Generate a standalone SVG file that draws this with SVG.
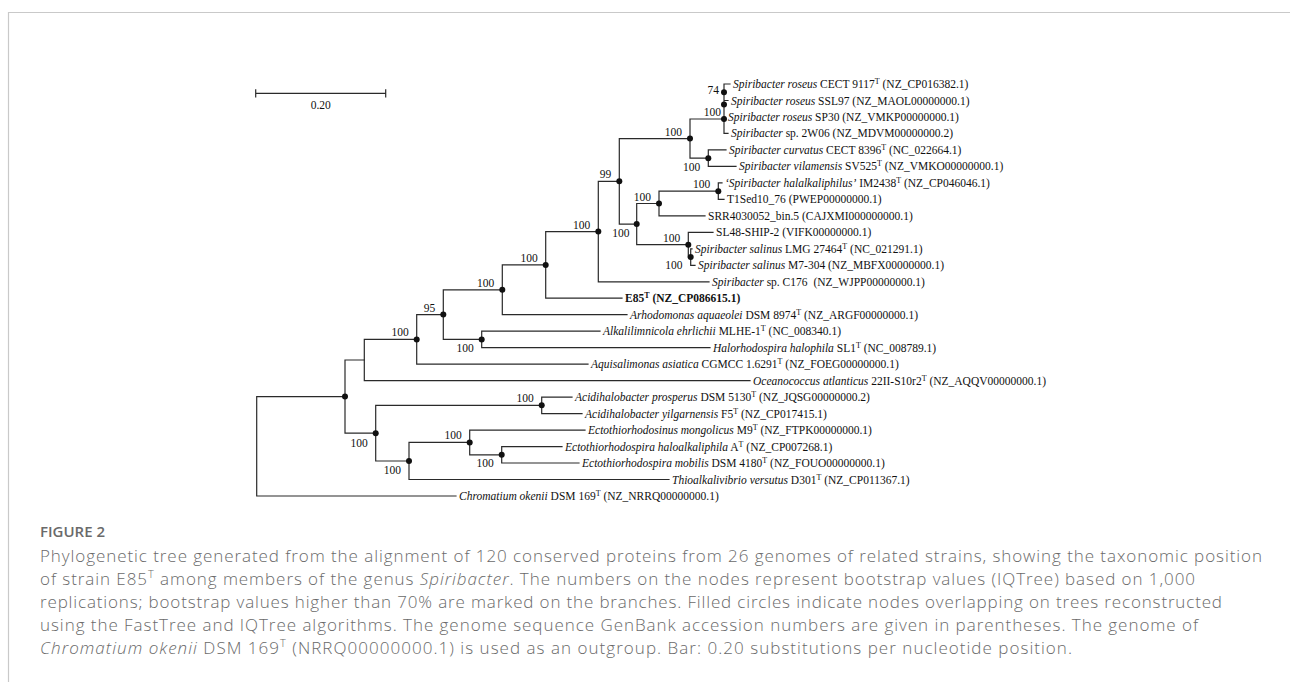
<svg xmlns="http://www.w3.org/2000/svg" width="1290" height="682" viewBox="0 0 1290 682">
<style>
.br{stroke:#2a2a2a;stroke-width:1.2;fill:none;stroke-linecap:square}
.dot{fill:#111}
.lf{font-family:"Liberation Serif","Times New Roman",serif;font-size:11.5px;fill:#111}
.bs{font-family:"Liberation Serif","Times New Roman",serif;font-size:11.5px;fill:#111;text-anchor:end}
.it{font-style:italic}
.sup{font-size:8px}
.cap{font-family:"Open Sans","Liberation Sans",sans-serif;font-size:17px;font-weight:300;fill:#6a6a6a}
.fig{font-family:"Open Sans","Liberation Sans",sans-serif;font-size:15px;font-weight:600;fill:#6a6a6a}
.frame{stroke:#c9c9c9;stroke-width:1.2;fill:none}
</style>
<path class="frame" d="M8.5,682 V12.5 H1290"/>

<g id="scalebar">
<path class="br" d="M255.7,93.3 H385.7 M255.7,89.8 V96.8 M385.7,89.8 V96.8"/>
<text class="lf" x="320.7" y="109" text-anchor="middle">0.20</text>
</g>

<g id="connectors" class="br">
<path d="M256.7,396.6 V496 M256.7,396.6 H345 M256.7,496 H456"/>
<path d="M345,360 V433.2 M345,360 H364.3 M345,433.2 H375.7"/>
<path d="M364.3,339.4 V380.6 M364.3,339.4 H416.7 M364.3,380.6 H750"/>
<path d="M416.7,314.6 V364.2 M416.7,314.6 H443.3 M416.7,364.2 H588"/>
<path d="M443.3,289.8 V339.45 M443.3,289.8 H502.3 M443.3,339.45 H481.7"/>
<path d="M481.7,331.2 V347.7 M481.7,331.2 H600 M481.7,347.7 H710"/>
<path d="M502.3,264.9 V314.7 M502.3,264.9 H545.7 M502.3,314.7 H627"/>
<path d="M545.7,231.6 V298.2 M545.7,231.6 H598.3 M545.7,298.2 H622"/>
<path d="M598.3,181.3 V281.8 M598.3,181.3 H619.3 M598.3,281.8 H709"/>
<path d="M619.3,138.6 V224.1 M619.3,138.6 H690 M619.3,224.1 H636.7"/>
<path d="M690,119 V158.15 M690,119 H724 M690,158.15 H708.3"/>
<path d="M724,84 V133.4 M724,84 H730 M724,100.5 H728 M724,117 H725 M724,133.4 H728"/>
<path d="M708.3,149.9 V166.4 M708.3,149.9 H726 M708.3,166.4 H736"/>
<path d="M636.7,203.5 V244.7 M636.7,203.5 H659 M636.7,244.7 H688.3"/>
<path d="M659,191.15 V215.8 M659,191.15 H718.3 M659,215.8 H705"/>
<path d="M718.3,182.9 V199.4 M718.3,182.9 H722 M718.3,199.4 H724"/>
<path d="M688.3,232.3 V257.05 M688.3,232.3 H713 M688.3,257.05 H690.7"/>
<path d="M690.7,248.8 V265.3 M690.7,248.8 H692 M690.7,265.3 H695"/>
<path d="M375.7,405.35 V461 M375.7,405.35 H541.7 M375.7,461 H409"/>
<path d="M541.7,397.1 V413.6 M541.7,397.1 H572 M541.7,413.6 H582"/>
<path d="M409,442.45 V479.5 M409,442.45 H469.7 M409,479.5 H669"/>
<path d="M469.7,430.1 V454.8 M469.7,430.1 H585 M469.7,454.8 H501.7"/>
<path d="M501.7,446.6 V463 M501.7,446.6 H562 M501.7,463 H579"/>
</g>

<g id="nodes">
<g id="nA"><circle class="dot" cx="345" cy="396.6" r="3"/></g>
<g id="nD"><circle class="dot" cx="416.7" cy="339.4" r="3"/><text class="bs" x="408.7" y="336.4">100</text></g>
<g id="nE"><circle class="dot" cx="443.3" cy="314.6" r="3"/><text class="bs" x="435.3" y="311.6">95</text></g>
<g id="nF"><circle class="dot" cx="502.3" cy="289.8" r="3"/><text class="bs" x="494.3" y="286.8">100</text></g>
<g id="nG"><circle class="dot" cx="481.7" cy="339.45" r="3"/><text class="bs" x="473.7" y="352">100</text></g>
<g id="nH"><circle class="dot" cx="545.7" cy="264.9" r="3"/><text class="bs" x="537.7" y="261.9">100</text></g>
<g id="nI"><circle class="dot" cx="598.3" cy="231.6" r="3"/><text class="bs" x="590.3" y="228.6">100</text></g>
<g id="nJ"><circle class="dot" cx="619.3" cy="181.3" r="3"/><text class="bs" x="611.3" y="178.3">99</text></g>
<g id="nK"><circle class="dot" cx="690" cy="138.6" r="3"/><text class="bs" x="682" y="135.6">100</text></g>
<g id="nM"><circle class="dot" cx="724" cy="92.2" r="3"/><circle class="dot" cx="724" cy="104.6" r="3"/><circle class="dot" cx="724" cy="119" r="3"/><text class="bs" x="719" y="94">74</text><text class="bs" x="721" y="115.7">100</text></g>
<g id="nN"><circle class="dot" cx="708.3" cy="158.15" r="3"/><text class="bs" x="700.3" y="170.6">100</text></g>
<g id="nL"><circle class="dot" cx="636.7" cy="224.1" r="3"/><text class="bs" x="629.5" y="237">100</text></g>
<g id="nO"><circle class="dot" cx="659" cy="203.5" r="3"/><text class="bs" x="651" y="200.5">100</text></g>
<g id="nQ"><circle class="dot" cx="718.3" cy="191.15" r="3"/><text class="bs" x="710.3" y="188.1">100</text></g>
<g id="nP"><circle class="dot" cx="688.3" cy="244.7" r="3"/><text class="bs" x="680.3" y="241.7">100</text></g>
<g id="nS"><circle class="dot" cx="690.7" cy="257.05" r="3"/><text class="bs" x="682.5" y="269.3">100</text></g>
<g id="nC"><circle class="dot" cx="375.7" cy="433.2" r="3"/><text class="bs" x="367.7" y="446.5">100</text></g>
<g id="nT"><circle class="dot" cx="541.7" cy="405.35" r="3"/><text class="bs" x="533.7" y="402.3">100</text></g>
<g id="nU"><circle class="dot" cx="409" cy="461" r="3"/><text class="bs" x="401" y="474">100</text></g>
<g id="nV"><circle class="dot" cx="469.7" cy="442.45" r="3"/><text class="bs" x="461.7" y="439.4">100</text></g>
<g id="nW"><circle class="dot" cx="501.7" cy="454.8" r="3"/><text class="bs" x="493.7" y="467.3">100</text></g>
</g>

<g id="leaves">
<text id="l0" class="lf" x="733" y="88"><tspan class="it">Spiribacter roseus</tspan> CECT 9117<tspan class="sup" dy="-4">T</tspan><tspan dy="4"> (NZ_CP016382.1)</tspan></text>
<text id="l1" class="lf" x="731" y="104.5"><tspan class="it">Spiribacter roseus</tspan> SSL97 (NZ_MAOL00000000.1)</text>
<text id="l2" class="lf" x="728" y="121"><tspan class="it">Spiribacter roseus</tspan> SP30 (NZ_VMKP00000000.1)</text>
<text id="l3" class="lf" x="731" y="137.4"><tspan class="it">Spiribacter</tspan> sp. 2W06 (NZ_MDVM00000000.2)</text>
<text id="l4" class="lf" x="729" y="153.9"><tspan class="it">Spiribacter curvatus</tspan> CECT 8396<tspan class="sup" dy="-4">T</tspan><tspan dy="4"> (NC_022664.1)</tspan></text>
<text id="l5" class="lf" x="739" y="170.4"><tspan class="it">Spiribacter vilamensis</tspan> SV525<tspan class="sup" dy="-4">T</tspan><tspan dy="4"> (NZ_VMKO00000000.1)</tspan></text>
<text id="l6" class="lf" x="725" y="186.9"><tspan class="it">‘Spiribacter halalkaliphilus’</tspan> IM2438<tspan class="sup" dy="-4">T</tspan><tspan dy="4"> (NZ_CP046046.1)</tspan></text>
<text id="l7" class="lf" x="727" y="203.4">T1Sed10_76 (PWEP00000000.1)</text>
<text id="l8" class="lf" x="708" y="219.8">SRR4030052_bin.5 (CAJXMI000000000.1)</text>
<text id="l9" class="lf" x="716" y="236.3">SL48-SHIP-2 (VIFK00000000.1)</text>
<text id="l10" class="lf" x="695" y="252.8"><tspan class="it">Spiribacter salinus</tspan> LMG 27464<tspan class="sup" dy="-4">T</tspan><tspan dy="4"> (NC_021291.1)</tspan></text>
<text id="l11" class="lf" x="698" y="269.3"><tspan class="it">Spiribacter salinus</tspan> M7-304 (NZ_MBFX00000000.1)</text>
<text id="l12" class="lf" x="712" y="285.8"><tspan class="it">Spiribacter</tspan> sp. C176 <tspan dx="3">(NZ_WJPP00000000.1)</tspan></text>
<text id="l13" class="lf" x="625" y="302.2" font-weight="bold">E85<tspan class="sup" dy="-4">T</tspan><tspan dy="4"> (NZ_CP086615.1)</tspan></text>
<text id="l14" class="lf" x="630" y="318.7"><tspan class="it">Arhodomonas aquaeolei</tspan> DSM 8974<tspan class="sup" dy="-4">T</tspan><tspan dy="4"> (NZ_ARGF00000000.1)</tspan></text>
<text id="l15" class="lf" x="603" y="335.2"><tspan class="it">Alkalilimnicola ehrlichii</tspan> MLHE-1<tspan class="sup" dy="-4">T</tspan><tspan dy="4"> (NC_008340.1)</tspan></text>
<text id="l16" class="lf" x="713" y="351.7"><tspan class="it">Halorhodospira halophila</tspan> SL1<tspan class="sup" dy="-4">T</tspan><tspan dy="4"> (NC_008789.1)</tspan></text>
<text id="l17" class="lf" x="591" y="368.2"><tspan class="it">Aquisalimonas asiatica</tspan> CGMCC 1.6291<tspan class="sup" dy="-4">T</tspan><tspan dy="4"> (NZ_FOEG00000000.1)</tspan></text>
<text id="l18" class="lf" x="753" y="384.6"><tspan class="it">Oceanococcus atlanticus</tspan> 22II-S10r2<tspan class="sup" dy="-4">T</tspan><tspan dy="4"> (NZ_AQQV00000000.1)</tspan></text>
<text id="l19" class="lf" x="575" y="401.1"><tspan class="it">Acidihalobacter prosperus</tspan> DSM 5130<tspan class="sup" dy="-4">T</tspan><tspan dy="4"> (NZ_JQSG00000000.2)</tspan></text>
<text id="l20" class="lf" x="585" y="417.6"><tspan class="it">Acidihalobacter yilgarnensis</tspan> F5<tspan class="sup" dy="-4">T</tspan><tspan dy="4"> (NZ_CP017415.1)</tspan></text>
<text id="l21" class="lf" x="588" y="434.1"><tspan class="it">Ectothiorhodosinus mongolicus</tspan> M9<tspan class="sup" dy="-4">T</tspan><tspan dy="4"> (NZ_FTPK00000000.1)</tspan></text>
<text id="l22" class="lf" x="565" y="450.6"><tspan class="it">Ectothiorhodospira haloalkaliphila</tspan> A<tspan class="sup" dy="-4">T</tspan><tspan dy="4"> (NZ_CP007268.1)</tspan></text>
<text id="l23" class="lf" x="582" y="467"><tspan class="it">Ectothiorhodospira mobilis</tspan> DSM 4180<tspan class="sup" dy="-4">T</tspan><tspan dy="4"> (NZ_FOUO00000000.1)</tspan></text>
<text id="l24" class="lf" x="672" y="483.5" font-size="10.5"><tspan class="it">Thioalkalivibrio versutus</tspan> D301<tspan class="sup" dy="-4">T</tspan><tspan dy="4"> (NZ_CP011367.1)</tspan></text>
<text id="l25" class="lf" x="459" y="500" font-size="10.5"><tspan class="it">Chromatium okenii</tspan> DSM 169<tspan class="sup" dy="-4">T</tspan><tspan dy="4"> (NZ_NRRQ00000000.1)</tspan></text>
</g>

<g id="caption">
<text class="fig" x="40" y="537">FIGURE 2</text>
<text class="cap" x="40" y="562" textLength="1222">Phylogenetic tree generated from the alignment of 120 conserved proteins from 26 genomes of related strains, showing the taxonomic position</text>
<text class="cap" x="40" y="585" textLength="1155">of strain E85<tspan font-size="11" dy="-7">T</tspan><tspan dy="7"> among members of the genus </tspan><tspan font-style="italic">Spiribacter</tspan>. The numbers on the nodes represent bootstrap values (IQTree) based on 1,000</text>
<text class="cap" x="40" y="608" textLength="1182">replications; bootstrap values higher than 70% are marked on the branches. Filled circles indicate nodes overlapping on trees reconstructed</text>
<text class="cap" x="40" y="631" textLength="1158">using the FastTree and IQTree algorithms. The genome sequence GenBank accession numbers are given in parentheses. The genome of</text>
<text class="cap" x="40" y="654" textLength="1032"><tspan font-style="italic">Chromatium okenii</tspan> DSM 169<tspan font-size="11" dy="-7">T</tspan><tspan dy="7"> (NRRQ00000000.1) is used as an outgroup. Bar: 0.20 substitutions per nucleotide position.</tspan></text>
</g>
</svg>
